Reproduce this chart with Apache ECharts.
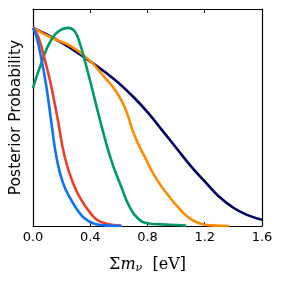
<!DOCTYPE html>
<html><head><meta charset="utf-8">
<script src="https://cdn.jsdelivr.net/npm/echarts@6/dist/echarts.min.js"></script>
<style>html,body{margin:0;padding:0;background:#fff}#c{width:281px;height:283px}</style>
</head><body><div id="c"></div>
<script>
var xTicks = [0.0, 0.4, 0.8, 1.2, 1.6];
var navyX = [0, 0.1, 0.2, 0.3, 0.4, 0.5, 0.6, 0.7, 0.8, 0.9, 1.0, 1.1, 1.2, 1.3, 1.4, 1.5, 1.6];
var navyY = [1.0, 0.965, 0.925, 0.88, 0.83, 0.778, 0.72, 0.652, 0.575, 0.485, 0.395, 0.305, 0.225, 0.148, 0.092, 0.055, 0.032];
var orangeX = [0, 0.13, 0.27, 0.4, 0.5, 0.57, 0.64, 0.71, 0.78, 0.86, 0.95, 1.03, 1.1, 1.17, 1.25, 1.37];
var orangeY = [1.0, 0.95, 0.905, 0.832, 0.75, 0.69, 0.60, 0.455, 0.35, 0.24, 0.15, 0.082, 0.036, 0.012, 0.003, 0.0];
var greenX = [0, 0.059, 0.129, 0.198, 0.245, 0.291, 0.326, 0.36, 0.407, 0.477, 0.546, 0.616, 0.674, 0.732, 0.8, 0.9, 1.0, 1.07];
var greenY = [0.696, 0.823, 0.941, 0.991, 1.0, 0.983, 0.924, 0.84, 0.71, 0.51, 0.334, 0.199, 0.098, 0.039, 0.014, 0.008, 0.005, 0.002];
var redX = [0, 0.036, 0.082, 0.117, 0.14, 0.175, 0.221, 0.28, 0.337, 0.407, 0.45, 0.5, 0.55, 0.615];
var redY = [1.0, 0.957, 0.84, 0.74, 0.66, 0.53, 0.351, 0.216, 0.132, 0.06, 0.03, 0.014, 0.006, 0.002];
var blueX = [0, 0.024, 0.059, 0.094, 0.129, 0.163, 0.21, 0.268, 0.337, 0.395, 0.45, 0.5, 0.62];
var blueY = [1.0, 0.957, 0.84, 0.70, 0.519, 0.351, 0.216, 0.13, 0.055, 0.022, 0.008, 0.003, 0.0];

function pairs(xs, ys) { return xs.map(function (x, i) { return [x, ys[i]]; }); }
function line(name, xs, ys, color) {
  return { name: name, type: 'line', data: pairs(xs, ys), smooth: 0.5, showSymbol: false,
    lineStyle: { color: color, width: 2.6 }, itemStyle: { color: color }, z: 3 };
}
var chart = echarts.init(document.getElementById('c'), null, { renderer: 'canvas' });
chart.setOption({
  animation: false,
  grid: { left: 31, right: 19, top: 9, bottom: 57, show: false },
  xAxis: [{
    type: 'value', min: 0, max: 1.6, interval: 0.4, position: 'bottom',
    axisLine: { show: true, onZero: false, lineStyle: { color: '#000', width: 1.2 } },
    axisTick: { show: true, inside: true, length: 4, lineStyle: { color: '#000' } },
    axisLabel: { color: '#000', fontFamily: 'DejaVu Sans', fontSize: 13, margin: 5,
      formatter: function (v) { return v.toFixed(1); } },
    splitLine: { show: false },
    name: '{s|Σ}{m|m}{n|ν}{s|  [eV]}', nameLocation: 'middle', nameGap: 29,
    nameTextStyle: { rich: {
      s: { fontFamily: 'DejaVu Serif', fontSize: 16, color: '#000' },
      m: { fontFamily: 'DejaVu Serif', fontStyle: 'italic', fontSize: 16, color: '#000' },
      n: { fontFamily: 'DejaVu Serif', fontStyle: 'italic', fontSize: 11, color: '#000', verticalAlign: 'bottom', padding: [8, 0, 0, 0] }
    } }
  }, {
    type: 'value', min: 0, max: 1.6, interval: 0.4, position: 'top',
    axisLine: { show: true, onZero: false, lineStyle: { color: '#000', width: 1.2 } },
    axisTick: { show: true, inside: true, length: 4, lineStyle: { color: '#000' } },
    axisLabel: { show: false }, splitLine: { show: false }
  }],
  yAxis: [{
    type: 'value', min: 0, max: 1.095, position: 'left',
    axisLine: { show: true, onZero: false, lineStyle: { color: '#000', width: 1.2 } },
    axisTick: { show: false }, axisLabel: { show: false }, splitLine: { show: false },
    name: 'Posterior Probability', nameLocation: 'middle', nameGap: 9,
    nameTextStyle: { fontFamily: 'DejaVu Sans', fontSize: 15.5, color: '#000' }
  }, {
    type: 'value', min: 0, max: 1.095, position: 'right',
    axisLine: { show: true, onZero: false, lineStyle: { color: '#000', width: 1.2 } },
    axisTick: { show: false }, axisLabel: { show: false }, splitLine: { show: false }
  }],
  series: [
    line('navy', navyX, navyY, '#000060'),
    line('orange', orangeX, orangeY, '#ff8c00'),
    line('green', greenX, greenY, '#009966'),
    line('red', redX, redY, '#e8402a'),
    line('blue', blueX, blueY, '#0f72f2')
  ]
});
</script></body></html>
